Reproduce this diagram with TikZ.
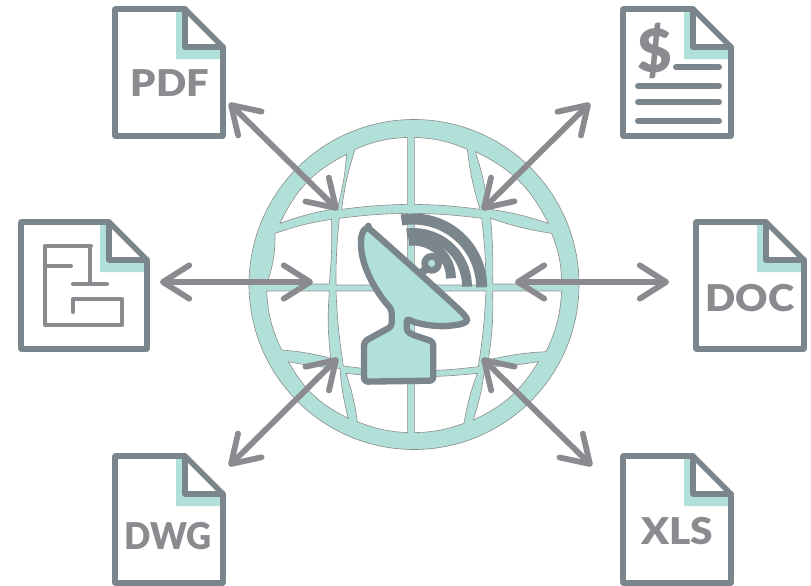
\documentclass[tikz,border=0pt]{standalone}
\usepackage{fontspec}
\setmainfont{Lato}[BoldFont={Lato Black}]
\usepackage{tikz}
\usetikzlibrary{arrows.meta}
\definecolor{sheetgrey}{HTML}{7B868C}
\definecolor{arrowgrey}{HTML}{8B8A8F}
\definecolor{globeteal}{HTML}{B0E0D8}
\tikzset{
  sheetline/.style={draw=sheetgrey,line width=3.2pt,line join=round,line cap=round},
  sheetlabel/.style={text=arrowgrey,font=\fontsize{21}{21}\selectfont\bfseries,inner sep=0pt},
  planline/.style={draw=arrowgrey,line width=2.3pt,line join=round,line cap=round},
  gridcell/.style={fill=white,draw=black!45,line width=.35pt},
  signalarc/.style={draw=sheetgrey,line width=#1},
  linkarrow/.style={draw=arrowgrey,line width=3.3pt,line cap=round,
    {Straight Barb[length=15pt,width=19pt,round]}-{Straight Barb[length=15pt,width=19pt,round]}},
  pics/docsheet/.style={code={
    \fill[globeteal] (#1-47,3) -- (#1-38,3) -- (#1-38,41) -- (#1-2,41) -- (#1-2,50) -- (#1-47,50) -- cycle;
    \draw[sheetline] (0,0) -- (#1-38,0) -- (#1,38) -- (#1,127) -- (0,127) -- cycle;
    \draw[sheetline] (#1-38,0) -- (#1-38,38) -- (#1,38);
  }}
}
\begin{document}
\begin{tikzpicture}[x=0.02cm,y=-0.02cm]
  \useasboundingbox (0,0) rectangle (811,585);
  % sheets
  \pic at (115,9) {docsheet=108};
  \pic at (623,9) {docsheet=108};
  \pic at (21,222) {docsheet=126};
  \pic at (696,222) {docsheet=108};
  \pic at (115,456) {docsheet=108};
  \pic at (623,456) {docsheet=108};
  \node[sheetlabel,xscale=1.08] (pdf) at (170,83) {PDF};
  \node[sheetlabel,xscale=1.08] (doc) at (750,298) {DOC};
  \node[sheetlabel,xscale=.94] (dwg) at (168,536) {DWG};
  \node[sheetlabel,xscale=1.1] (xls) at (677,531) {XLS};
  % invoice sheet
  \node[text=arrowgrey,font=\fontsize{34}{34}\selectfont\bfseries,inner sep=0pt] (dollar) at (655,51) {\$};
  \draw[sheetline,line width=3.4pt] (676,67) -- (719,67);
  \draw[sheetline,line width=3.4pt] (638,86) -- (719,86);
  \draw[sheetline,line width=3.4pt] (638,102) -- (719,102);
  \draw[sheetline,line width=3.4pt] (638,121) -- (719,121);
  % floor plan sheet
  \draw[planline] (91,246) -- (45,246) -- (45,325) -- (122,325) -- (122,299) -- (73,299) -- (73,312);
  \draw[planline] (45,266) -- (71,266);
  \draw[planline] (90,246) -- (90,284);
  \draw[planline] (73,284) -- (107,284);
  % globe, in the coordinates of a 3x crop
  \fill[globeteal,draw=black!45,line width=.35pt] (414,284.5) circle (165);
  \begin{scope}[shift={(240,110)},x=0.02cm/3,y=-0.02cm/3]
    \path[gridcell] (120,340) to[bend left=19] (320,133) to[bend left=5] (292,295) to[bend left=-5] cycle;
    \path[gridcell] (345,118) to[bend left=10] (503,82) -- (503,283) to[bend left=-3] (305,298) to[bend left=5] cycle;
    \path[gridcell] (523,82) to[bend left=10] (682,118) to[bend left=-5] (720,298) to[bend left=-3] (523,283) -- cycle;
    \path[gridcell] (706,125) to[bend left=19] (925,340) to[bend left=-5] (745,297) to[bend left=-5] cycle;
    \path[gridcell] (105,370) to[bend left=10] (80,522) -- (268,522) to[bend left=-3] (275,328) to[bend left=-5] cycle;
    \path[gridcell] (298,325) to[bend left=3] (503,310) -- (503,525) -- (288,525) to[bend left=3] cycle;
    \path[gridcell] (523,310) to[bend left=3] (725,325) to[bend left=3] (738,525) -- (523,525) -- cycle;
    \path[gridcell] (752,325) to[bend left=-5] (935,370) to[bend left=10] (965,522) -- (758,522) to[bend left=-3] cycle;
    \path[gridcell] (80,543) -- (268,543) to[bend left=-5] (272,745) to[bend left=-5] (125,720) to[bend left=11] cycle;
    \path[gridcell] (288,543) -- (503,543) -- (503,783) to[bend left=3] (310,768) to[bend left=3] cycle;
    \path[gridcell] (523,543) -- (738,543) to[bend left=3] (715,770) to[bend left=3] (523,783) -- cycle;
    \path[gridcell] (758,543) -- (965,543) to[bend left=11] (918,725) to[bend left=-5] (745,750) to[bend left=-5] cycle;
    \path[gridcell] (145,755) to[bend left=-4] (300,775) to[bend left=-5] (325,925) to[bend left=17] cycle;
    \path[gridcell] (318,790) to[bend left=-3] (503,800) -- (503,968) to[bend left=9] (352,935) to[bend left=-5] cycle;
    \path[gridcell] (523,800) to[bend left=-3] (712,790) to[bend left=-5] (672,940) to[bend left=9] (523,968) -- cycle;
    \path[gridcell] (735,770) to[bend left=-4] (895,755) to[bend left=17] (700,930) to[bend left=-5] cycle;
    % signal
    \draw[signalarc=6.3pt] (725,532) arc (0:-100:205);
    \draw[signalarc=5.6pt] (681,530) arc (0:-97:161);
    \draw[signalarc=5.6pt] (633,505) arc (0:-97:113);
    % dish
    \draw[draw=sheetgrey,line width=4.5pt] (530,500) -- (560,475);
    \draw[draw=sheetgrey,fill=globeteal,line width=3.8pt] (575,460) circle (21);
    \draw[sheetline,fill=globeteal,line width=3.6pt,rounded corners=2pt] (385,358)
      .. controls (400,365) and (650,590) .. (676,618)
      .. controls (685,635) and (670,642) .. (640,646)
      .. controls (590,652) and (530,642) .. (500,625)
      -- (500,665) -- (520,675) -- (580,695) -- (580,812)
      -- (372,815) -- (372,695) -- (435,660) -- (455,650) -- (455,598)
      .. controls (410,550) and (365,470) .. (363,400)
      .. controls (363,375) and (372,358) .. (385,358) -- cycle;
  \end{scope}
  % link end points
  \coordinate (pdfend) at (229,103);
  \coordinate (pdfhub) at (338,210);
  \coordinate (billend) at (590,103);
  \coordinate (billhub) at (482,210);
  \coordinate (planend) at (160,282);
  \coordinate (planhub) at (313,282);
  \coordinate (docend) at (669,282);
  \coordinate (dochub) at (515,282);
  \coordinate (dwgend) at (229,466);
  \coordinate (dwghub) at (338,358);
  \coordinate (xlsend) at (592,466);
  \coordinate (xlshub) at (482,358);
  \draw[linkarrow] (pdfend) -- (pdfhub);
  \draw[linkarrow] (billend) -- (billhub);
  \draw[linkarrow] (planend) -- (planhub);
  \draw[linkarrow] (docend) -- (dochub);
  \draw[linkarrow] (dwgend) -- (dwghub);
  \draw[linkarrow] (xlsend) -- (xlshub);
\end{tikzpicture}
\end{document}
